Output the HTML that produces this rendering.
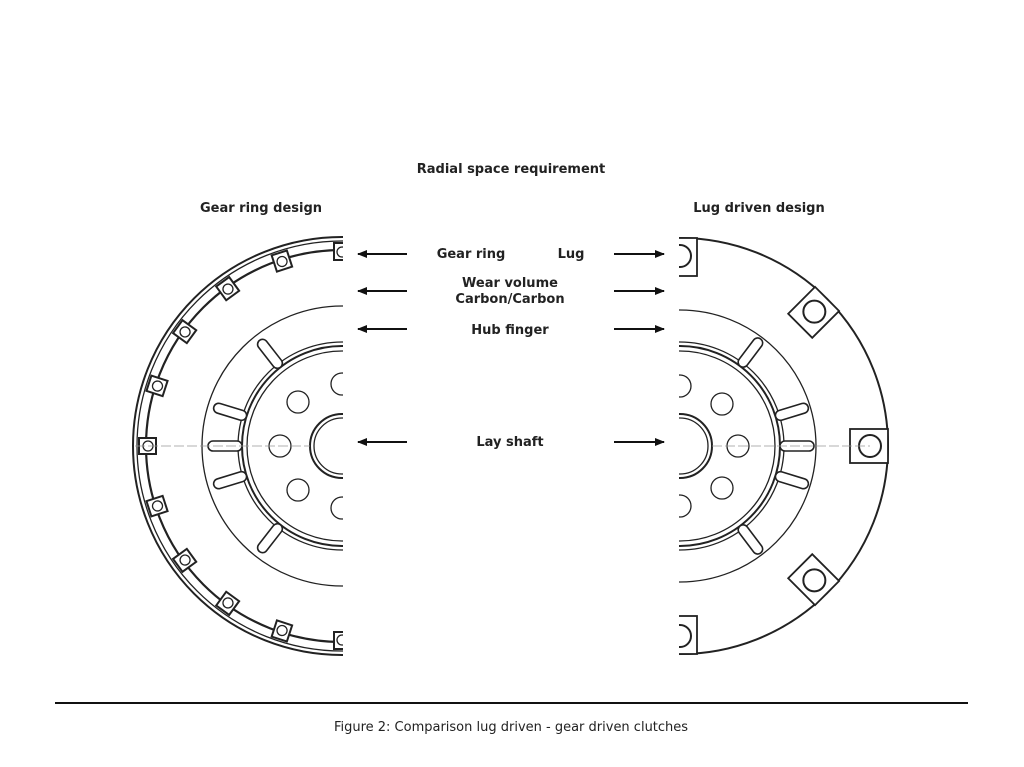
<!DOCTYPE html>
<html><head><meta charset="utf-8"><style>
html,body{margin:0;padding:0;background:#fff;}
svg{display:block}
text{font-family:"DejaVu Sans","Liberation Sans",sans-serif;font-size:13px;fill:#222;font-weight:bold}
</style></head><body>
<svg width="1024" height="767" viewBox="0 0 1024 767" xmlns="http://www.w3.org/2000/svg">
<defs>
<clipPath id="cl"><rect x="0" y="0" width="343" height="767"/></clipPath>
<clipPath id="cr"><rect x="679" y="0" width="345" height="767"/></clipPath>
<marker id="ah" markerWidth="10" markerHeight="8" refX="9" refY="4" orient="auto" markerUnits="userSpaceOnUse"><path d="M0,0 L10,4 L0,8 Z" fill="#111"/></marker>
</defs>
<rect width="1024" height="767" fill="#fff"/>

<text x="511" y="173" text-anchor="middle">Radial space requirement</text>
<text x="261" y="212" text-anchor="middle">Gear ring design</text>
<text x="759" y="212" text-anchor="middle">Lug driven design</text>
<text x="471" y="258" text-anchor="middle">Gear ring</text>
<text x="571" y="258" text-anchor="middle">Lug</text>
<text x="510" y="287" text-anchor="middle">Wear volume</text>
<text x="510" y="303" text-anchor="middle">Carbon/Carbon</text>
<text x="510" y="334" text-anchor="middle">Hub finger</text>
<text x="510" y="446" text-anchor="middle">Lay shaft</text>

<g stroke="#111" stroke-width="2" marker-end="url(#ah)">
<line x1="407" y1="254" x2="358" y2="254"/>
<line x1="407" y1="291" x2="358" y2="291"/>
<line x1="407" y1="329" x2="358" y2="329"/>
<line x1="407" y1="442" x2="358" y2="442"/>
<line x1="614" y1="254" x2="664" y2="254"/>
<line x1="614" y1="291" x2="664" y2="291"/>
<line x1="614" y1="329" x2="664" y2="329"/>
<line x1="614" y1="442" x2="664" y2="442"/>
</g>

<!-- LEFT -->
<g clip-path="url(#cl)" fill="none" stroke="#222" stroke-width="1.3">
<circle cx="342" cy="446" r="209" stroke-width="2"/>
<circle cx="342" cy="446" r="205"/>
<circle cx="342" cy="446" r="196" stroke-width="2.2"/>
<g transform="translate(342,446)">
<g id="t"><rect x="-203" y="-8" width="17" height="16" fill="#fff" stroke-width="2"/><circle cx="-194" cy="0" r="5"/></g>
<use href="#t" transform="rotate(18)"/><use href="#t" transform="rotate(36)"/><use href="#t" transform="rotate(54)"/><use href="#t" transform="rotate(72)"/><use href="#t" transform="rotate(90)"/>
<use href="#t" transform="rotate(-18)"/><use href="#t" transform="rotate(-36)"/><use href="#t" transform="rotate(-54)"/><use href="#t" transform="rotate(-72)"/><use href="#t" transform="rotate(-90)"/>
</g>
<circle cx="342" cy="446" r="140"/>
<circle cx="342" cy="446" r="104"/>
<circle cx="342" cy="446" r="100" stroke-width="2"/>
<circle cx="342" cy="446" r="95"/>
<g transform="translate(342,446)">
<g id="s"><rect x="-134" y="-5" width="34" height="10" rx="5" fill="#fff" stroke-width="1.6"/></g>
<use href="#s" transform="rotate(17)"/><use href="#s" transform="rotate(-17)"/><use href="#s" transform="rotate(52)"/><use href="#s" transform="rotate(-52)"/>
<circle cx="-62" cy="0" r="11"/><circle cx="-44" cy="-44" r="11"/><circle cx="-44" cy="44" r="11"/><circle cx="0" cy="-62" r="11"/><circle cx="0" cy="62" r="11"/>
<circle r="32" stroke-width="2"/><circle r="28"/>
</g>
<line x1="135" y1="446" x2="310" y2="446" stroke="#999" stroke-width="0.8" stroke-dasharray="10,3"/>
</g>

<!-- RIGHT -->
<g clip-path="url(#cr)" fill="none" stroke="#222" stroke-width="1.3">
<circle cx="680" cy="446" r="208" stroke-width="2"/>
<g transform="translate(680,446)">
<g id="l"><rect x="170" y="-17" width="38" height="34" fill="#fff" stroke-width="1.8"/><circle cx="190" cy="0" r="11" stroke-width="2"/></g>
<use href="#l" transform="rotate(45)"/><use href="#l" transform="rotate(-45)"/><use href="#l" transform="rotate(90)"/><use href="#l" transform="rotate(-90)"/>
</g>
<circle cx="680" cy="446" r="136"/>
<circle cx="680" cy="446" r="104"/>
<circle cx="680" cy="446" r="100" stroke-width="2"/>
<circle cx="680" cy="446" r="95"/>
<g transform="translate(680,446)">
<g id="s2"><rect x="100" y="-5" width="34" height="10" rx="5" fill="#fff" stroke-width="1.6"/></g>
<use href="#s2" transform="rotate(17)"/><use href="#s2" transform="rotate(-17)"/><use href="#s2" transform="rotate(53)"/><use href="#s2" transform="rotate(-53)"/>
<circle cx="58" cy="0" r="11"/><circle cx="42" cy="-42" r="11"/><circle cx="42" cy="42" r="11"/><circle cx="0" cy="-60" r="11"/><circle cx="0" cy="60" r="11"/>
<circle r="32" stroke-width="2"/><circle r="28"/>
</g>
<line x1="712" y1="446" x2="870" y2="446" stroke="#999" stroke-width="0.8" stroke-dasharray="10,3"/>
</g>

<line x1="55" y1="703" x2="968" y2="703" stroke="#111" stroke-width="2"/>
<text x="511" y="731" text-anchor="middle" style="font-weight:normal">Figure 2: Comparison lug driven - gear driven clutches</text>
</svg>
</body></html>
